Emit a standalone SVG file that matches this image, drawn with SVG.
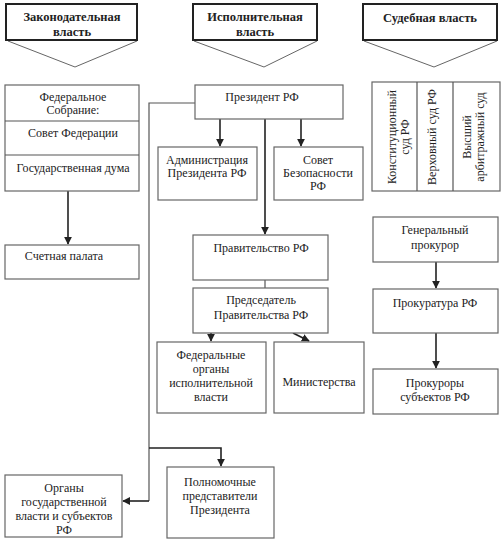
<svg xmlns="http://www.w3.org/2000/svg" width="503" height="544" viewBox="0 0 503 544">
<style>
text{font-size:12px;fill:#222;text-anchor:middle}
.h{font-weight:bold;font-size:12.5px}
.box{fill:#fff;stroke:#666;stroke-width:1.2}
.hbox{fill:#fff;stroke:#222;stroke-width:2}
.tri{fill:none;stroke:#666;stroke-width:1}
.ln{fill:none;stroke:#555;stroke-width:1.2}
.ar{fill:none;stroke:#222;stroke-width:1.6;marker-end:url(#ah)}
</style>
<defs>
<marker id="ah" viewBox="0 0 10 10" refX="9" refY="5" markerWidth="5" markerHeight="5" orient="auto" markerUnits="strokeWidth">
<path d="M0,0 L10,5 L0,10 Z" fill="#222"/>
</marker>
</defs>
<rect width="503" height="544" fill="#fff"/>
<g font-family="Liberation Serif, Tinos, DejaVu Serif, Noto Serif, Times New Roman, serif">
<g id="hdr-leg">
<polyline class="tri" points="8,41 75,67 137,41"/>
<rect class="hbox" x="6" y="4" width="131" height="36"/>
<text class="h" x="72" y="21">Законодательная</text>
<text class="h" x="72" y="36">власть</text>
</g>
<g id="hdr-exec">
<polyline class="tri" points="194,41 264,67 317,41"/>
<rect class="hbox" x="193" y="4" width="124" height="36"/>
<text class="h" x="255" y="21">Исполнительная</text>
<text class="h" x="255" y="36">власть</text>
</g>
<g id="hdr-jud">
<polyline class="tri" points="364,41 434,67 497,41"/>
<rect class="hbox" x="363" y="4" width="134" height="36"/>
<text class="h" x="430" y="22">Судебная власть</text>
</g>
<g id="connectors">
<line class="ar" x1="68" y1="191" x2="68" y2="244"/>
<polyline class="ln" points="195,103 149,103 149,501"/>
<polyline class="ar" points="149,448 221,448 221,466"/>
<polyline class="ar" points="149,501 123,501"/>
<line class="ar" x1="220" y1="119" x2="220" y2="146"/>
<line class="ar" x1="301" y1="119" x2="301" y2="146"/>
<line class="ar" x1="265" y1="119" x2="265" y2="234"/>
<line class="ln" x1="265" y1="280" x2="265" y2="288"/>
<line class="ar" x1="211" y1="333" x2="211" y2="341"/>
<line class="ar" x1="293" y1="333" x2="309" y2="341"/>
<line class="ar" x1="436" y1="262" x2="436" y2="288"/>
<line class="ar" x1="436" y1="333" x2="436" y2="368"/>
</g>
<g id="fed-assembly">
<rect class="box" x="5" y="85" width="134" height="106"/>
<line class="ln" x1="5" y1="121" x2="139" y2="121"/>
<line class="ln" x1="5" y1="155" x2="139" y2="155"/>
<text x="73" y="101">Федеральное</text>
<text x="73" y="114">Собрание:</text>
<text x="73" y="137">Совет Федерации</text>
<text x="73" y="172">Государственная дума</text>
</g>
<g id="audit">
<rect class="box" x="5" y="245" width="134" height="34"/>
<text x="64" y="260">Счетная палата</text>
</g>
<g id="president">
<rect class="box" x="195" y="85" width="148" height="34"/>
<text x="262" y="101">Президент РФ</text>
</g>
<g id="admin">
<rect class="box" x="158" y="147" width="99" height="53"/>
<text x="207" y="164">Администрация</text>
<text x="207" y="177">Президента РФ</text>
</g>
<g id="security">
<rect class="box" x="274" y="147" width="89" height="53"/>
<text x="318" y="164">Совет</text>
<text x="318" y="177">Безопасности</text>
<text x="318" y="190">РФ</text>
</g>
<g id="government">
<rect class="box" x="193" y="235" width="135" height="45"/>
<text x="261" y="252">Правительство РФ</text>
</g>
<g id="chairman">
<rect class="box" x="193" y="288" width="135" height="45"/>
<text x="261" y="304">Председатель</text>
<text x="261" y="319">Правительства РФ</text>
</g>
<g id="fed-organs">
<rect class="box" x="157" y="342" width="109" height="71"/>
<text x="211" y="359">Федеральные</text>
<text x="211" y="373">органы</text>
<text x="211" y="387">исполнительной</text>
<text x="211" y="401">власти</text>
</g>
<g id="ministries">
<rect class="box" x="274" y="342" width="90" height="71"/>
<text x="319" y="386">Министерства</text>
</g>
<g id="courts">
<rect class="box" x="372" y="82" width="128" height="109"/>
<line class="ln" x1="417" y1="82" x2="417" y2="191"/>
<line class="ln" x1="453" y1="82" x2="453" y2="191"/>
<text transform="translate(396 137) rotate(-90)">Конституционный</text>
<text transform="translate(409 137) rotate(-90)">суд РФ</text>
<text transform="translate(436 137) rotate(-90)">Верховный суд РФ</text>
<text transform="translate(471 137) rotate(-90)">Высший</text>
<text transform="translate(484 137) rotate(-90)">арбитражный суд</text>
</g>
<g id="gen-prosecutor">
<rect class="box" x="373" y="217" width="125" height="45"/>
<text x="435" y="234">Генеральный</text>
<text x="435" y="249">прокурор</text>
</g>
<g id="prosecution">
<rect class="box" x="373" y="289" width="125" height="44"/>
<text x="435" y="307">Прокуратура РФ</text>
</g>
<g id="reg-prosecutors">
<rect class="box" x="373" y="369" width="125" height="45"/>
<text x="435" y="387">Прокуроры</text>
<text x="435" y="401">субъектов РФ</text>
</g>
<g id="regional">
<rect class="box" x="5" y="475" width="117" height="62"/>
<text x="64" y="492">Органы</text>
<text x="64" y="506">государственной</text>
<text x="64" y="520">власти и субъектов</text>
<text x="64" y="534">РФ</text>
</g>
<g id="envoys">
<rect class="box" x="167" y="467" width="107" height="71"/>
<text x="220" y="486">Полномочные</text>
<text x="220" y="500">представители</text>
<text x="220" y="514">Президента</text>
</g>
</g>
</svg>
